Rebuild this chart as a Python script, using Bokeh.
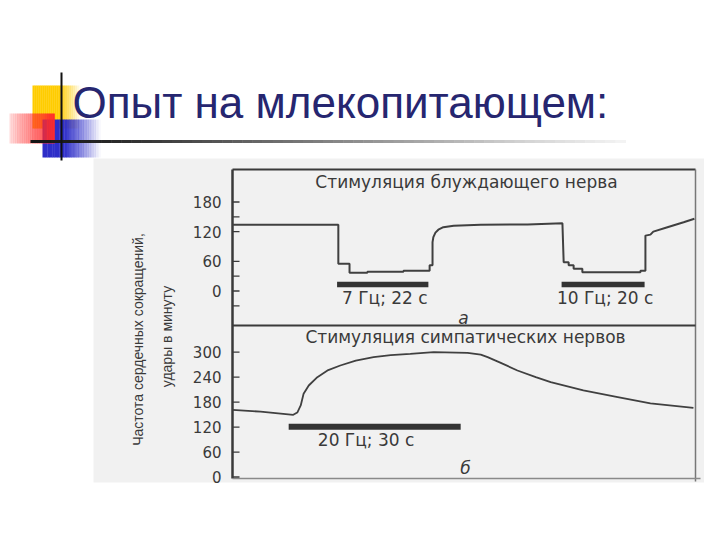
import numpy as np
from bokeh.plotting import figure
from bokeh.models import Range1d
from bokeh.core.properties import value
from bokeh.embed import file_html
from bokeh.resources import INLINE

# ---------------- data ----------------
TITLE = "Опыт на млекопитающем:"
TOP_TITLE = "Стимуляция блуждающего нерва"
BOT_TITLE = "Стимуляция симпатических нервов"
Y_LABEL_1 = "Частота сердечных сокращений,"
Y_LABEL_2 = "удары в минуту"

# top panel: vagus nerve stimulation (time s, beats/min)
top_t = [0.0, 25.5, 25.5, 28.2, 28.2, 32.5, 32.5, 41.2, 41.2, 47.5, 47.5, 48.2, 48.2,
         48.4, 48.9, 49.6, 50.8, 53.3, 59.8, 71.1, 79.5, 79.8, 81.0, 81.0, 82.2, 82.2,
         84.3, 84.3, 98.3, 98.3, 99.5, 99.5, 100.7, 101.4, 104.8, 108.7, 111.3]
top_v = [134, 134, 55, 55, 37, 37, 39, 39, 41, 41, 52, 52, 99,
         109, 118, 124, 129, 132, 134, 134.5, 137, 58, 58, 52, 52, 45,
         45, 38, 38, 41, 41, 112, 114, 120, 129, 139, 146]
top_ticks_major = [0, 60, 120, 180]
top_ticks_minor = [-30, 30, 150]
top_bar_start = [25.2, 79.3]
top_bar_end = [47.2, 99.3]
top_bar_level = [13, 13]
top_bar_labels = ["7 Гц; 22 с", "10 Гц; 20 с"]

# bottom panel: sympathetic nerve stimulation
bot_t = [0.0, 4.9, 10.6, 11.3, 11.9, 12.4, 13.3, 14.8, 16.7, 18.8, 21.5, 24.6, 27.6,
         31.0, 35.1, 41.0, 43.3, 44.5, 46.7, 49.7, 52.9, 55.5, 61.2, 67.2, 72.9, 80.4]
bot_v = [161.5, 157, 149.5, 155, 172, 200, 220, 240, 257, 268, 280, 288, 293,
         296, 300, 298.5, 294, 288, 275, 256, 240, 228, 208, 192, 177, 166]
bot_ticks = [0, 60, 120, 180, 240, 300]
bot_bar_start = [9.8]
bot_bar_end = [39.8]
bot_bar_level = [121]
bot_bar_labels = ["20 Гц; 30 с"]

# ---------------- figure: picture-pixel canvas ----------------
W, H = 704, 524
p = figure(width=W, height=H, output_backend="svg", toolbar_location=None,
           x_range=Range1d(0, W), y_range=Range1d(H, 0),
           x_axis_location=None, y_axis_location=None, min_border=0)
p.grid.visible = False
p.outline_line_color = None
p.background_fill_color = "white"
p.border_fill_color = "white"

# data ranges placed where the scanned chart sits on the slide
TOP_PX_S, BOT_PX_S = 4.15, 5.733
X0 = 232.0
p.extra_x_ranges = {
    "t1": Range1d(-X0 / TOP_PX_S, -X0 / TOP_PX_S + W / TOP_PX_S),
    "t2": Range1d(-X0 / BOT_PX_S, -X0 / BOT_PX_S + W / BOT_PX_S),
}
TOP_Y0, TOP_PX = 290.5, 89.0 / 180
BOT_Y0, BOT_PX = 476.5, 124.8 / 300
p.extra_y_ranges = {
    "v1": Range1d(-(H - TOP_Y0) / TOP_PX, TOP_Y0 / TOP_PX),
    "v2": Range1d(-(H - BOT_Y0) / BOT_PX, BOT_Y0 / BOT_PX),
}

# ---------------- slide decoration ----------------
def grad(x0, x1, y0, y1, color, a_left, a_right, n=24, hold=None):
    xs = np.linspace(x0, x1, n + 1)
    lefts, rights, alphas = [], [], []
    for i in range(n):
        f = (i + 0.5) / n
        if hold is not None:
            if f < hold:
                a = a_left
            else:
                a = a_left + (a_right - a_left) * (f - hold) / (1 - hold)
        else:
            a = a_left + (a_right - a_left) * f
        lefts.append(xs[i]); rights.append(xs[i + 1] + 0.3); alphas.append(a)
    p.quad(left=lefts, right=rights, top=[y0] * n, bottom=[y1] * n,
           fill_color=color, fill_alpha=alphas, line_color=None)

grad(32, 80, 85, 128, "#FFCC00", 1.0, 0.0, hold=0.55)
grad(42, 100, 119, 157, "#2E2EC8", 1.0, 0.0, hold=0.38)
grad(9, 54, 113, 143, "#FF2B2B", 0.15, 1.0, hold=None)

# title rule with gradient
seg_x = np.linspace(30, 625, 60)
seg_cols = []
for i in range(len(seg_x) - 1):
    xm = (seg_x[i] + seg_x[i + 1]) / 2
    g = int(np.interp(xm, [30, 110, 250, 400, 520, 625], [20, 40, 100, 160, 210, 245]))
    seg_cols.append("#%02x%02x%02x" % (g, g, g))
p.segment(x0=seg_x[:-1], x1=seg_x[1:] + 0.5, y0=[141] * (len(seg_x) - 1),
          y1=[141] * (len(seg_x) - 1), line_color=seg_cols, line_width=3)
p.segment(x0=[61], x1=[61], y0=[72], y1=[160], line_color="#111111", line_width=2)

p.text(x=[72], y=[102], text=[TITLE], text_font=value("Liberation Sans"),
       text_font_size="44px", text_color="#262670", text_baseline="alphabetic",
       text_align="left")

# ---------------- scanned chart ----------------
p.quad(left=[93], right=[705], top=[158], bottom=[482], fill_color="#f1f1f1",
       line_color=None)

FRAME = "#3a3a3a"
# frame lines
p.segment(x0=[X0, X0, 695, X0, X0], x1=[695, X0, 695, 695, 700],
          y0=[169, 169, 169, 325, 478], y1=[169, 478, 481, 325, 478],
          line_color=[FRAME, FRAME, "#777777", FRAME, "#8a8a8a"],
          line_width=[2, 2.5, 1.5, 2, 1.5])

# ticks
tk_top = top_ticks_major + top_ticks_minor
p.segment(x0=[X0] * len(tk_top), x1=[X0 + 7] * len(tk_top), y0=tk_top, y1=tk_top,
          y_range_name="v1", line_color=FRAME, line_width=1.3)
p.segment(x0=[X0] * len(bot_ticks), x1=[X0 + 7] * len(bot_ticks), y0=bot_ticks,
          y1=bot_ticks, y_range_name="v2", line_color=FRAME, line_width=1.3)

TXT = "#3a3a3a"
FONT = value("DejaVu Sans")
p.text(x=[221] * len(top_ticks_major), y=top_ticks_major,
       text=[str(v) for v in top_ticks_major], y_range_name="v1",
       text_font=FONT, text_font_size="15px", text_color=TXT,
       text_align="right", text_baseline="middle")
p.text(x=[221] * len(bot_ticks), y=bot_ticks, text=[str(v) for v in bot_ticks],
       y_range_name="v2", text_font=FONT, text_font_size="15px", text_color=TXT,
       text_align="right", text_baseline="middle")

# traces
p.line(top_t, top_v, x_range_name="t1", y_range_name="v1", line_color="#404040",
       line_width=2)
p.line(bot_t, bot_v, x_range_name="t2", y_range_name="v2", line_color="#404040",
       line_width=1.8)

# stimulation bars
p.segment(x0=top_bar_start, x1=top_bar_end, y0=top_bar_level, y1=top_bar_level,
          x_range_name="t1", y_range_name="v1", line_color="#333333", line_width=5.5,
          line_cap="butt")
p.segment(x0=bot_bar_start, x1=bot_bar_end, y0=bot_bar_level, y1=bot_bar_level,
          x_range_name="t2", y_range_name="v2", line_color="#333333", line_width=6,
          line_cap="butt")
top_mid = [(a + b) / 2 + 0.5 for a, b in zip(top_bar_start, top_bar_end)]
bot_mid = [(a + b) / 2 - 1.5 for a, b in zip(bot_bar_start, bot_bar_end)]
p.text(x=top_mid, y=top_bar_level, text=top_bar_labels, x_range_name="t1",
       y_range_name="v1", y_offset=13, text_font=FONT, text_font_size="17px",
       text_color=TXT, text_align="center", text_baseline="middle")
p.text(x=bot_mid, y=bot_bar_level, text=bot_bar_labels, x_range_name="t2",
       y_range_name="v2", y_offset=13, text_font=FONT, text_font_size="17px",
       text_color=TXT, text_align="center", text_baseline="middle")

# panel titles and letters
p.text(x=[466, 465], y=[181, 336], text=[TOP_TITLE, BOT_TITLE], text_font=FONT,
       text_font_size="17px", text_color=TXT, text_align="center",
       text_baseline="middle")
p.text(x=[463, 465], y=[317, 467], text=["а", "б"], text_font=FONT,
       text_font_size="17px", text_font_style="italic", text_color=TXT,
       text_align="center", text_baseline="middle")

# y-axis label (two rotated lines)
p.text(x=[137, 166], y=[339, 336], text=[Y_LABEL_1, Y_LABEL_2],
       text_font=value("Liberation Sans"), text_font_size="14px", text_color=TXT,
       angle=np.pi / 2, text_align="center", text_baseline="middle")

open("out.html", "w").write(file_html(p, INLINE))
